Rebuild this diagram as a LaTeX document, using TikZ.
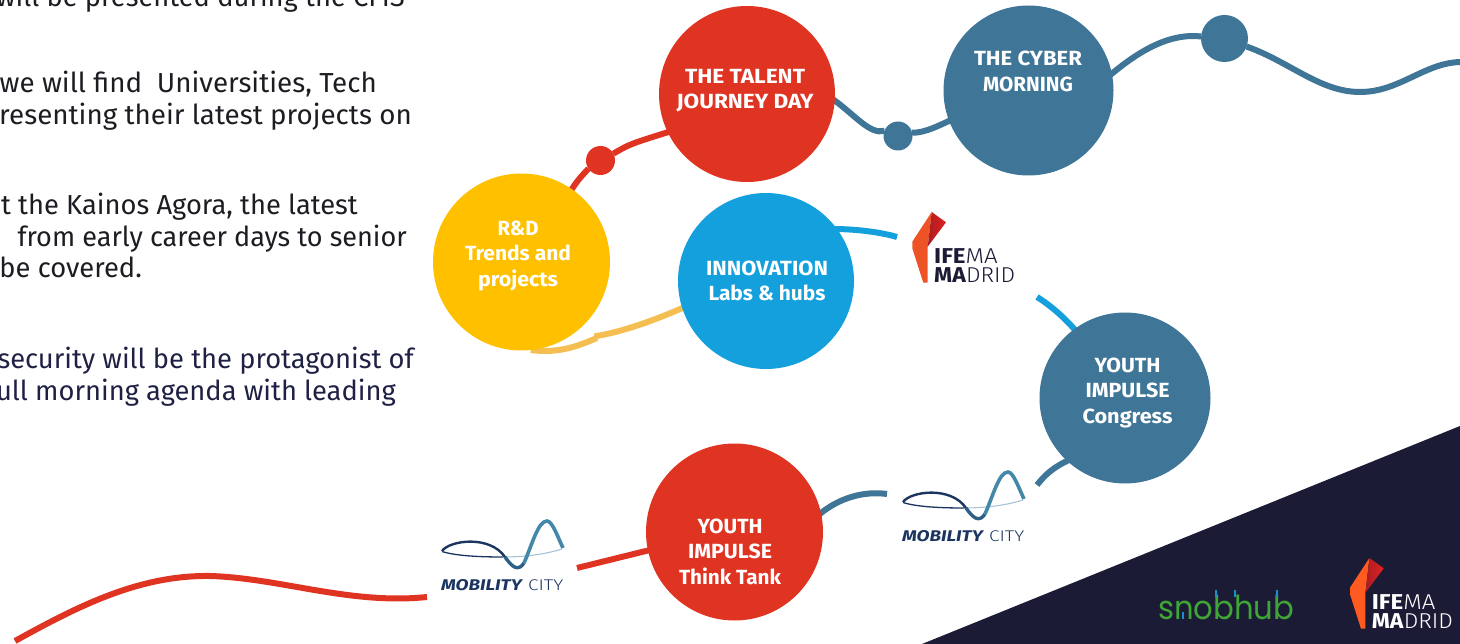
\documentclass[tikz,border=0pt]{standalone}
\usepackage{fontspec}
\usepackage{graphicx}
\usetikzlibrary{backgrounds}
\setmainfont{Fira Sans}
\newfontfamily\lightfont{Fira Sans Light}
\newfontfamily\snobfont{Poppins}
\definecolor{navy}{HTML}{1C1B36}
\definecolor{inkblue}{HTML}{1F2144}
\definecolor{inkdark}{HTML}{1C1C22}
\definecolor{talentred}{HTML}{E03423}
\definecolor{steel}{HTML}{3F7597}
\definecolor{sky}{HTML}{14A0DC}
\definecolor{amber}{HTML}{FFC000}
\definecolor{softamber}{HTML}{F5BE50}
\definecolor{snobgreen}{HTML}{3FA535}
\definecolor{snobblue}{HTML}{1B8FCC}
\definecolor{mobnavy}{HTML}{1B3560}
\definecolor{mobmid}{HTML}{2F6088}
\definecolor{mobteal}{HTML}{4388A8}
\definecolor{mobpale}{HTML}{A9C3D6}
\definecolor{flameA}{HTML}{EE5325}
\definecolor{flameB}{HTML}{FF5A1F}
\definecolor{flamedark}{HTML}{A81E24}
\definecolor{flamered}{HTML}{E4201F}
\newcommand\fit[2]{\resizebox{#1pt}{\height}{#2}}
\newcommand\circtext[3]{\makebox[0pt][c]{\raisebox{#2pt}[0pt][0pt]{\hspace*{#1pt}\fontsize{20.5}{25.6}\selectfont\bfseries\begin{tabular}{@{}c@{}}#3\end{tabular}}}}
\tikzset{
  x=1pt,y=-1pt,
  disc/.style={circle,minimum size=#1,inner sep=0pt,outer sep=0pt,text=white},
  body/.style={anchor=base east,inner sep=0pt,font=\fontsize{27.5}{32}\selectfont},
  conn/.style={line width=6pt},
  logotext/.style={anchor=base west,inner sep=0pt},
  logoblock/.style={anchor=south west,inner sep=0pt,align=left,font=\fontsize{21.5}{18.3}\selectfont},
}
\newcommand\bodyline[6]{\node[body,text=#5] (#1) at (#2,#3) {\scalebox{#6}[1]{#4}};}
\newcommand\ifemalogo[4]{%
\begin{scope}[shift={(#1,#2)}]
  \fill[#4] (0,0) -- (-19.4,29.7) -- (-19.4,36.3) -- (-8.4,70.7) -- (-4,70.7) -- (-4,34.7) -- cycle;
  \shade[left color=flamedark,right color=flamered] (0,0) -- (14.3,10.3) -- (-4,34.7) -- cycle;
  \node[logoblock,text=#3] (#4a) at (2.3,70.3) {\fit{63.5}{\textbf{IFE}{\lightfont MA}}\\\fit{81}{\textbf{MA}{\lightfont DRID}}};
\end{scope}}
\newcommand\mobilitylogo[3]{%
\begin{scope}[shift={(#1,#2)}]
  \draw[line width=1.3pt,mobnavy] (1,-38.5) .. controls (15,-34) and (40,-33) .. (62,-33);
  \draw[line width=1.1pt,mobpale] (62,-33) .. controls (85,-33) and (105,-36) .. (121,-41);
  \draw[line width=2.4pt,mobnavy] (1,-39) .. controls (9,-50) and (49,-55) .. (64,-33);
  \draw[line width=3.4pt,mobmid] (64,-33) .. controls (71,-23) and (77,-18) .. (83,-27);
  \draw[line width=3.6pt,mobteal] (83,-27) .. controls (91,-45) and (97,-69) .. (106,-69) .. controls (111,-69) and (116,-55) .. (122,-42);
  \node[logotext,text=mobnavy] (#3) at (0,0) {\fit{122}{\fontsize{15.5}{17}\selectfont\textbf{\textit{MOBILITY}} {\lightfont CITY}}};
\end{scope}}
\begin{document}
\begin{tikzpicture}
\useasboundingbox (0,0) rectangle (1460,644);
\clip (0,0) rectangle (1460,644);

\bodyline{t1}{405}{7}{will be presented during the CFIS}{inkdark}{0.993}
\bodyline{t2}{377}{93}{we will find\ \ Universities, Tech}{inkdark}{1.01}
\bodyline{t3}{412}{125}{resenting their latest projects on}{inkdark}{1.01}
\bodyline{t4}{358}{215}{t the Kainos Agora, the latest}{inkdark}{0.993}
\bodyline{t5}{407}{247}{from early career days to senior}{inkdark}{0.983}
\bodyline{t6}{142}{278}{be covered.}{inkdark}{0.993}
\bodyline{t7}{414}{369}{security will be the protagonist of}{inkblue}{0.993}
\bodyline{t8}{396}{401}{ull morning agenda with leading}{inkblue}{0.993}

\node[disc=177pt,fill=amber] (rd) at (521.5,262) {\circtext{-7}{1}{\fit{41}{R\&D}\\\fit{106}{Trends and}\\\fit{80}{projects}}};
\node[disc=176pt,fill=talentred] (talent) at (747,94) {\circtext{-4}{-2}{\fit{120}{THE TALENT}\\\fit{137}{JOURNEY DAY}}};
\node[disc=170pt,fill=steel] (cyber) at (1028.5,90.5) {\circtext{-1}{12}{\fit{108}{THE CYBER}\\\fit{90}{MORNING}}};
\node[disc=176pt,fill=sky] (innov) at (766,281) {\circtext{2}{-7}{\fit{122}{INNOVATION}\\\fit{117}{Labs \& hubs}}};
\node[disc=171pt,fill=steel] (congress) at (1125,398) {\circtext{5}{0}{\fit{66}{YOUTH}\\\fit{84}{IMPULSE}\\\fit{90}{Congress}}};
\node[disc=177pt,fill=talentred] (tank) at (734.5,532) {\circtext{-9}{-27}{\fit{65}{YOUTH}\\\fit{84}{IMPULSE}\\\fit{102}{Think Tank}}};
\node[disc=29pt,fill=talentred] (dota) at (600.5,160.5) {};
\node[disc=29pt,fill=steel] (dotb) at (898,136) {};
\node[disc=47pt,fill=steel] (dotc) at (1224.5,38.5) {};

\coordinate (redstart) at (15,641);
\coordinate (redcrest) at (210,576);
\coordinate (redend) at (427,597);
\coordinate (redfree) at (577,568);
\coordinate (tealfreea) at (887,494);
\coordinate (tealfreeb) at (1037,485);
\coordinate (skyfreea) at (897,237);
\coordinate (skyfreeb) at (1037,297);
\coordinate (amberkink) at (597,338);
\coordinate (wavelow) at (1360,92);
\coordinate (waveend) at (1462,62);

\begin{scope}[on background layer]
\fill[navy] (922,644) -- (1460,426) -- (1460,644) -- cycle;
\draw[conn,talentred] (redstart) .. controls (80,605) and (140,575) .. (redcrest) .. controls (280,578) and (350,605) .. (redend);
\draw[conn,talentred] (redfree) -- ([shift={(2,-0.4)}]tank.192);
\draw[conn,talentred] ([shift={(-2,2)}]rd.55) .. controls (578,180) .. (dota.214);
\draw[conn,talentred] (dota.28) .. controls (630,144) .. ([shift={(2,-1)}]talent.206);
\draw[conn,steel] ([shift={(-2,-1)}]talent.-4) .. controls (855,115) and (870,135) .. (dotb.159);
\draw[conn,steel] (dotb.13) .. controls (925,133) and (940,125) .. ([shift={(2,-1)}]cyber.201);
\draw[conn,steel] ([shift={(-2,1)}]cyber.11) .. controls (1140,50) and (1170,33) .. (dotc.175);
\draw[conn,steel] (dotc.-20) .. controls (1290,62) and (1320,92) .. (wavelow) .. controls (1400,92) and (1425,62) .. (waveend);
\draw[conn,softamber] (rd.-84) .. controls (560,354) and (580,345) .. (amberkink);
\draw[conn,softamber] (amberkink) -- ++(0,-2) .. controls (625,331) and (655,320) .. ([shift={(2,-1)}]innov.198);
\draw[conn,sky] ([shift={(-2,1)}]innov.37) .. controls (855,229) and (880,232) .. (skyfreea);
\draw[conn,sky] (skyfreeb) .. controls (1050,305) and (1065,318) .. ([shift={(1,2)}]congress.126);
\draw[conn,steel] ([shift={(2,-2)}]congress.228) .. controls (1052,468) and (1045,475) .. (tealfreeb);
\draw[conn,steel] ([shift={(-2,1)}]tank.12) .. controls (840,497) and (865,491) .. (tealfreea);
\end{scope}

\ifemalogo{931.7}{212}{navy}{flameA}
\ifemalogo{1369.4}{558}{white}{flameB}
\mobilitylogo{441}{590}{mobA}
\mobilitylogo{902}{541}{mobB}

\node[logotext,text=snobgreen] (snob) at (1158,619) {\fit{136}{\fontsize{33}{36}\snobfont snobhub}};
\foreach \tx/\nm in {1216/ta,1235/tb,1276.7/tc}{
  \coordinate (\nm u) at (\tx,589.5);
  \coordinate (\nm d) at (\tx,597);
  \draw[snobblue,line width=2pt] (\nm u) -- (\nm d);
}
\coordinate (tdu) at (1183.3,611.5);
\coordinate (tdd) at (1183.3,618.5);
\draw[snobblue,line width=2pt] (tdu) -- (tdd);
\end{tikzpicture}
\end{document}
